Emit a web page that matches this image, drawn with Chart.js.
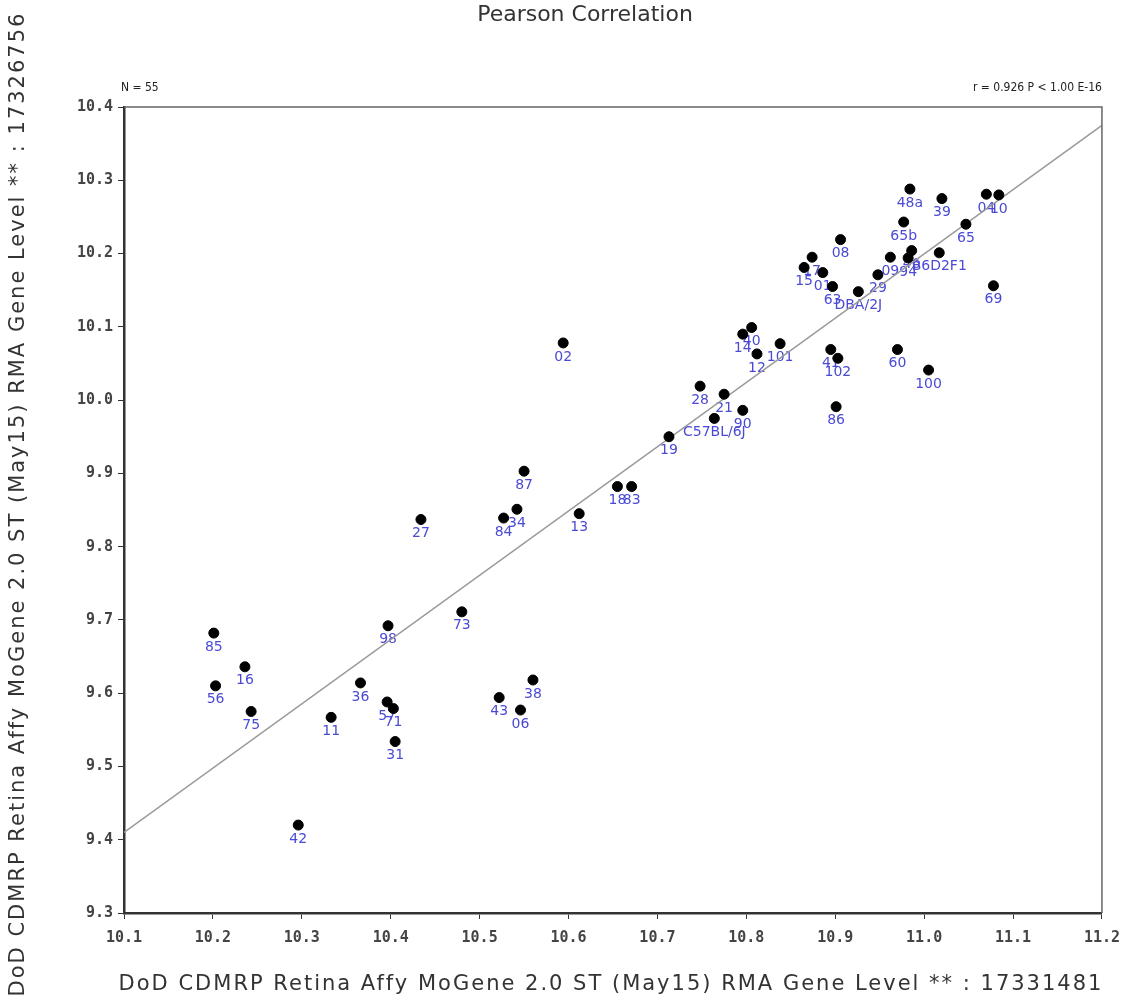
<!DOCTYPE html>
<html>
<head>
<meta charset="utf-8">
<script src="https://cdn.jsdelivr.net/npm/chart.js@4.4.0/dist/chart.umd.min.js"></script>
<style>
  html, body { margin: 0; padding: 0; background: #fff; }
  #chart { display: block; }
</style>
</head>
<body>
<canvas id="chart" width="1130" height="1008"></canvas>
<script>
// sample names and expression values (x: probe 17331481, y: probe 17326756)
const names = ['48a', '39', '04', '10', '65b', '65', '08', '17', '15', '01',
  '63', 'DBA/2J', '29', '09', '94', '46', 'B6D2F1', '69', '14', '40',
  '12', '101', '41', '102', '60', '100', '28', '21', '90', 'C57BL/6J',
  '86', '19', '02', '87', '27', '84', '34', '13', '18', '83',
  '85', '16', '56', '75', '11', '36', '98', '73', '57', '71',
  '31', '43', '06', '38', '42'];
const xValues = [10.984, 11.020, 11.070, 11.084, 10.977, 11.047, 10.906, 10.874, 10.865, 10.886,
  10.897, 10.926, 10.948, 10.962, 10.982, 10.986, 11.017, 11.078, 10.796, 10.806,
  10.812, 10.838, 10.895, 10.903, 10.970, 11.005, 10.748, 10.775, 10.796, 10.764,
  10.901, 10.713, 10.594, 10.550, 10.434, 10.527, 10.542, 10.612, 10.655, 10.671,
  10.201, 10.236, 10.203, 10.243, 10.333, 10.366, 10.397, 10.480, 10.396, 10.403,
  10.405, 10.522, 10.546, 10.560, 10.296];
const yValues = [10.288, 10.275, 10.281, 10.280, 10.243, 10.240, 10.219, 10.195, 10.181, 10.174,
  10.155, 10.148, 10.171, 10.195, 10.194, 10.204, 10.201, 10.156, 10.090, 10.099,
  10.063, 10.077, 10.069, 10.057, 10.069, 10.041, 10.019, 10.008, 9.986, 9.975,
  9.991, 9.950, 10.078, 9.903, 9.837, 9.839, 9.851, 9.845, 9.882, 9.882,
  9.682, 9.636, 9.610, 9.575, 9.567, 9.614, 9.692, 9.711, 9.588, 9.579,
  9.534, 9.594, 9.577, 9.618, 9.420];

// regression line end points
const fitX = [10.1, 11.2];
const fitY = [9.41, 10.375];

// axis ticks
const xTicks = [10.1, 10.2, 10.3, 10.4, 10.5, 10.6, 10.7, 10.8, 10.9, 11.0, 11.1, 11.2];
const yTicks = [9.3, 9.4, 9.5, 9.6, 9.7, 9.8, 9.9, 10.0, 10.1, 10.2, 10.3, 10.4];

const titleText = 'Pearson Correlation';
const nText = 'N = 55';
const statText = 'r = 0.926 P < 1.00 E-16';
const xTitle = 'DoD CDMRP Retina Affy MoGene 2.0 ST (May15) RMA Gene Level ** : 17331481';
const yTitle = 'DoD CDMRP Retina Affy MoGene 2.0 ST (May15) RMA Gene Level ** : 17326756';

const points = names.map((n, i) => ({ x: xValues[i], y: yValues[i] }));
const fitLine = fitX.map((x, i) => ({ x: x, y: fitY[i] }));

// point labels, drawn under the dots
const labelPlugin = {
    id: 'pointLabels',
    beforeDatasetsDraw(chart) {
        const ctx = chart.ctx;
        const meta = chart.getDatasetMeta(0);
        ctx.save();
        ctx.font = '14px "DejaVu Sans", Verdana, sans-serif';
        ctx.fillStyle = '#4a4ad6';
        ctx.textAlign = 'center';
        ctx.textBaseline = 'middle';
        meta.data.forEach((el, i) => {
            ctx.fillText(names[i], el.x, el.y + 14);
        });
        ctx.restore();
    }
};

// frame, titles and annotation texts
const decorPlugin = {
    id: 'decor',
    beforeDraw(chart) {
        const ctx = chart.ctx;
        ctx.save();
        ctx.fillStyle = '#fff';
        ctx.fillRect(0, 0, chart.width, chart.height);
        ctx.restore();
    },
    afterDraw(chart) {
        const ctx = chart.ctx;
        const a = chart.chartArea;
        ctx.save();
        ctx.strokeStyle = '#666';
        ctx.lineWidth = 1.5;
        ctx.beginPath();
        ctx.moveTo(a.left, a.top);
        ctx.lineTo(a.right, a.top);
        ctx.lineTo(a.right, a.bottom);
        ctx.stroke();

        ctx.fillStyle = '#333';
        ctx.textAlign = 'center';
        ctx.textBaseline = 'middle';
        ctx.font = '22px "DejaVu Sans", Verdana, sans-serif';
        ctx.fillText(titleText, 585, 15);

        // axis titles, slightly spaced out
        ctx.font = '21px "DejaVu Sans", Verdana, sans-serif';
        ctx.letterSpacing = '2px';
        ctx.fillText(xTitle, 611, 985);
        ctx.save();
        ctx.translate(19, 504);
        ctx.rotate(-Math.PI / 2);
        ctx.fillText(yTitle, 0, 0);
        ctx.restore();
        ctx.letterSpacing = '0px';

        ctx.font = '12px "DejaVu Sans Condensed", "DejaVu Sans", sans-serif';
        ctx.fillStyle = '#222';
        ctx.textAlign = 'left';
        ctx.fillText(nText, a.left - 3, 88);
        ctx.textAlign = 'right';
        ctx.fillText(statText, a.right, 88);
        ctx.restore();
    }
};

const ctx = document.getElementById('chart').getContext('2d');
new Chart(ctx, {
    data: {
        datasets: [
            {
                type: 'scatter',
                data: points,
                backgroundColor: '#000',
                borderColor: '#000',
                pointRadius: 5,
                pointHoverRadius: 5,
                order: 0
            },
            {
                type: 'line',
                data: fitLine,
                borderColor: '#999',
                borderWidth: 1.5,
                pointRadius: 0,
                fill: false,
                order: 1
            }
        ]
    },
    options: {
        responsive: false,
        animation: false,
        devicePixelRatio: 1,
        layout: { padding: { left: 0, right: 28, top: 107, bottom: 0 } },
        plugins: {
            legend: { display: false },
            tooltip: { enabled: false }
        },
        scales: {
            x: {
                type: 'linear',
                min: 10.1,
                max: 11.2,
                afterBuildTicks: (scale) => { scale.ticks = xTicks.map(v => ({ value: v })); },
                afterFit: (scale) => { scale.height = 95; },
                grid: { drawOnChartArea: false, drawTicks: true, tickLength: 6, color: '#333' },
                border: { color: '#333', width: 2.5 },
                ticks: {
                    callback: (v) => Number(v).toFixed(1),
                    font: { family: '"DejaVu Sans Mono", monospace', size: 15, weight: 'bold' },
                    color: '#444',
                    padding: 10,
                    maxRotation: 0,
                    autoSkip: false
                }
            },
            y: {
                type: 'linear',
                min: 9.3,
                max: 10.4,
                afterBuildTicks: (scale) => { scale.ticks = yTicks.map(v => ({ value: v })); },
                afterFit: (scale) => { scale.width = 124; },
                grid: { drawOnChartArea: false, drawTicks: true, tickLength: 6, color: '#333' },
                border: { color: '#333', width: 2.5 },
                ticks: {
                    callback: (v) => Number(v).toFixed(1),
                    font: { family: '"DejaVu Sans Mono", monospace', size: 15, weight: 'bold' },
                    color: '#444',
                    padding: 5,
                    autoSkip: false
                }
            }
        }
    },
    plugins: [decorPlugin, labelPlugin]
});
</script>
</body>
</html>
